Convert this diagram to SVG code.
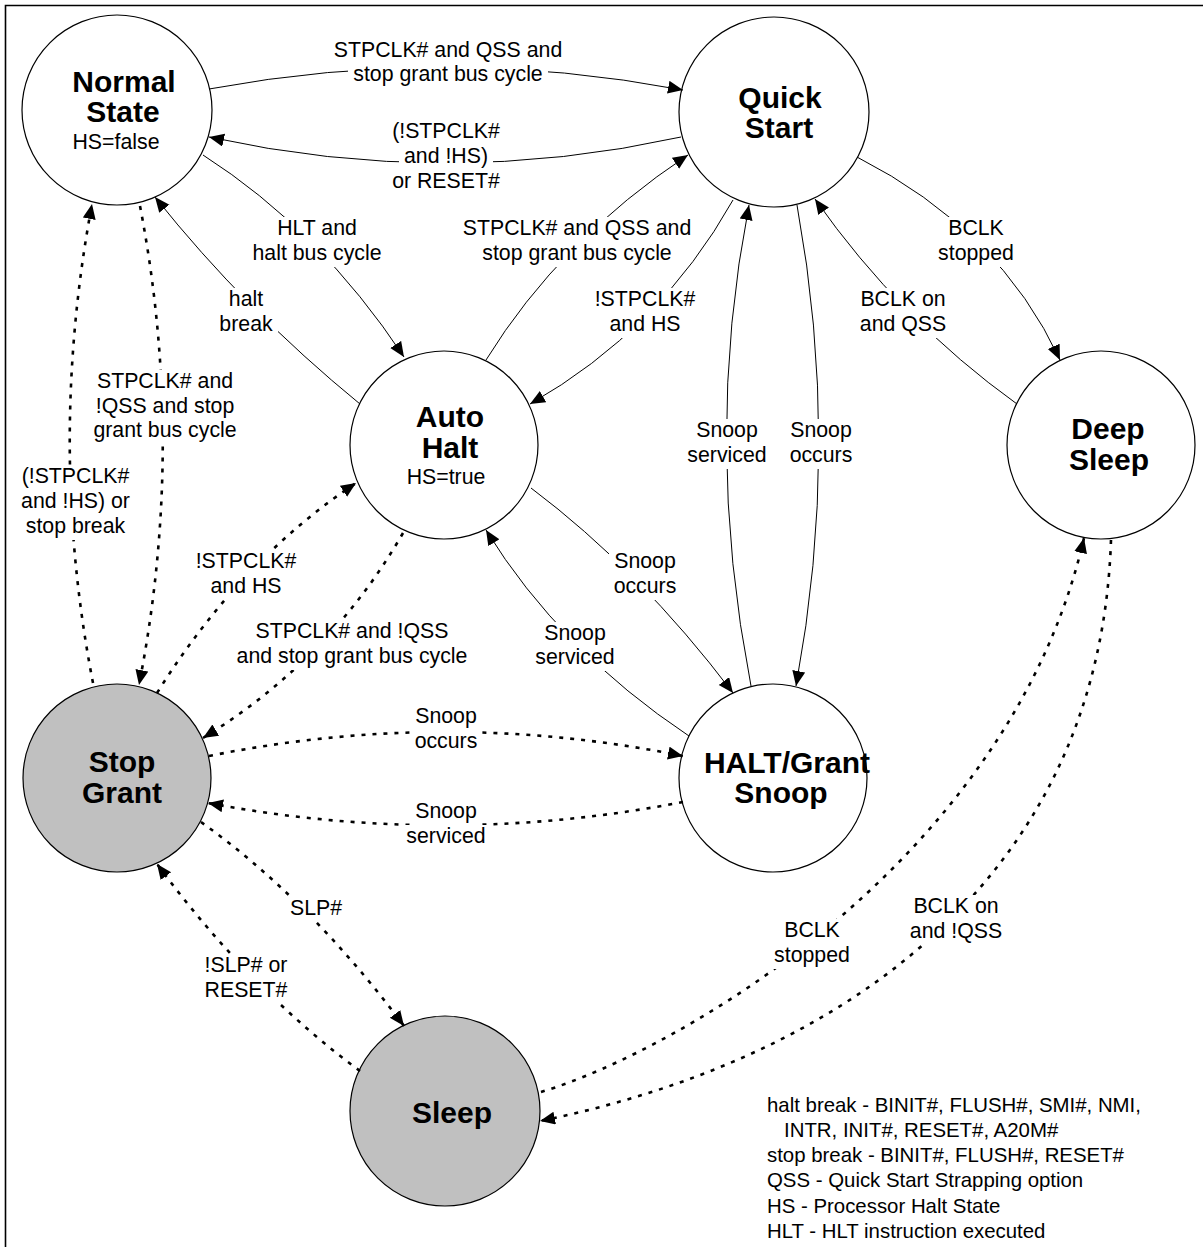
<svg xmlns="http://www.w3.org/2000/svg" width="1203" height="1247" viewBox="0 0 1203 1247">
<style>
.node{stroke:#000;stroke-width:1.2;fill:#fff}
.gray{fill:#c0c0c0}
.title{font-family:"Liberation Sans",Arial,sans-serif;font-weight:bold;font-size:30px;text-anchor:middle;fill:#000}
.sub{font-family:"Liberation Sans",Arial,sans-serif;font-size:21.3px;text-anchor:middle;fill:#000}
.solid{fill:none;stroke:#000;stroke-width:1}
.dot{fill:none;stroke:#000;stroke-width:2.6;stroke-dasharray:4 7}
.lbl rect{fill:#fff;stroke:none}
.lbl text{font-family:"Liberation Sans",Arial,sans-serif;font-size:21.3px;text-anchor:middle;fill:#000}
.legend{font-family:"Liberation Sans",Arial,sans-serif;font-size:20.4px;fill:#000}
</style>
<defs>
<marker id="ah" markerUnits="userSpaceOnUse" markerWidth="16" markerHeight="14" refX="15" refY="6.5" orient="auto">
<path d="M0,0 L15,6.5 L0,13 Z" fill="#000"/>
</marker>
</defs>
<rect x="0" y="0" width="1203" height="1247" fill="#fff"/>
<path d="M5.5,1247 V5.5 H1203" fill="none" stroke="#000" stroke-width="1.6"/>

<g id="nodes">
<g id="normal-state"><circle class="node" cx="117" cy="110" r="95"/><text class="title" x="124" y="92">Normal</text><text class="title" x="123" y="122">State</text><text class="sub" x="116" y="149">HS=false</text></g>
<g id="quick-start"><circle class="node" cx="774" cy="112" r="95"/><text class="title" x="780" y="108">Quick</text><text class="title" x="779" y="138">Start</text></g>
<g id="auto-halt"><circle class="node" cx="444" cy="445" r="94"/><text class="title" x="450" y="427">Auto</text><text class="title" x="450" y="458">Halt</text><text class="sub" x="446" y="484">HS=true</text></g>
<g id="deep-sleep"><circle class="node" cx="1101" cy="445" r="94"/><text class="title" x="1108" y="439">Deep</text><text class="title" x="1109" y="470">Sleep</text></g>
<g id="stop-grant"><circle class="node gray" cx="117" cy="778" r="94"/><text class="title" x="122" y="772">Stop</text><text class="title" x="122" y="803">Grant</text></g>
<g id="halt-grant-snoop"><circle class="node" cx="773" cy="778" r="94"/><text class="title" x="787" y="773">HALT/Grant</text><text class="title" x="781" y="803">Snoop</text></g>
<g id="sleep"><circle class="node gray" cx="445" cy="1111" r="95"/><text class="title" x="452" y="1123">Sleep</text></g>
</g>

<g id="connectors">
<path class="solid" d="M209,89 Q446,45 683,90" marker-end="url(#ah)"/>
<path class="solid" d="M681,137 Q446,189 209,137" marker-end="url(#ah)"/>
<path class="solid" d="M203,155 Q320,230 404,357" marker-end="url(#ah)"/>
<path class="solid" d="M360,404 Q245,310 155,197" marker-end="url(#ah)"/>
<path class="solid" d="M486,360 Q560,240 688,155" marker-end="url(#ah)"/>
<path class="solid" d="M733,200 Q660,330 530,404" marker-end="url(#ah)"/>
<path class="solid" d="M857,157 Q1000,230 1060,360" marker-end="url(#ah)"/>
<path class="solid" d="M1017,404 Q900,320 815,199" marker-end="url(#ah)"/>
<path class="solid" d="M751,686 Q703,440 749,205" marker-end="url(#ah)"/>
<path class="solid" d="M797,205 Q841,445 796,686" marker-end="url(#ah)"/>
<path class="solid" d="M531,488 Q640,570 733,693" marker-end="url(#ah)"/>
<path class="solid" d="M689,736 Q560,650 486,530" marker-end="url(#ah)"/>
<path class="dot" d="M140,206 Q186,445 139,685" marker-end="url(#ah)"/>
<path class="dot" d="M93,683 Q47,445 92,204" marker-end="url(#ah)"/>
<path class="dot" d="M157,693 Q240,560 356,483" marker-end="url(#ah)"/>
<path class="dot" d="M403,533 Q330,660 203,738" marker-end="url(#ah)"/>
<path class="dot" d="M209,756 Q446,708 683,756" marker-end="url(#ah)"/>
<path class="dot" d="M683,802 Q446,848 208,803" marker-end="url(#ah)"/>
<path class="dot" d="M201,822 Q310,900 404,1026" marker-end="url(#ah)"/>
<path class="dot" d="M360,1071 Q250,990 157,864" marker-end="url(#ah)"/>
<path class="dot" d="M541,1092 C680,1050 1010,860 1084,538" marker-end="url(#ah)"/>
<path class="dot" d="M1111,540 C1100,880 840,1060 540,1121" marker-end="url(#ah)"/>
</g>

<g id="labels">
<g class="lbl"><rect x="329" y="39" width="239" height="25"/><rect x="348" y="63" width="200" height="25"/><text><tspan x="448" y="57">STPCLK# and QSS and</tspan><tspan x="448" y="81">stop grant bus cycle</tspan></text></g>
<g class="lbl"><rect x="387" y="120" width="118" height="25"/><rect x="399" y="145" width="94" height="25"/><rect x="387" y="170" width="118" height="25"/><text><tspan x="446" y="138">(!STPCLK#</tspan><tspan x="446" y="163">and !HS)</tspan><tspan x="446" y="188">or RESET#</tspan></text></g>
<g class="lbl"><rect x="271" y="217" width="92" height="25"/><rect x="247" y="242" width="140" height="25"/><text><tspan x="317" y="235">HLT and</tspan><tspan x="317" y="260">halt bus cycle</tspan></text></g>
<g class="lbl"><rect x="224" y="288" width="44" height="25"/><rect x="214" y="313" width="64" height="25"/><text><tspan x="246" y="306">halt</tspan><tspan x="246" y="331">break</tspan></text></g>
<g class="lbl"><rect x="458" y="217" width="239" height="25"/><rect x="477" y="242" width="200" height="25"/><text><tspan x="577" y="235">STPCLK# and QSS and</tspan><tspan x="577" y="260">stop grant bus cycle</tspan></text></g>
<g class="lbl"><rect x="590" y="288" width="110" height="25"/><rect x="605" y="313" width="80" height="25"/><text><tspan x="645" y="306">!STPCLK#</tspan><tspan x="645" y="331">and HS</tspan></text></g>
<g class="lbl"><rect x="943" y="217" width="66" height="25"/><rect x="933" y="242" width="86" height="25"/><text><tspan x="976" y="235">BCLK</tspan><tspan x="976" y="260">stopped</tspan></text></g>
<g class="lbl"><rect x="855" y="288" width="96" height="25"/><rect x="855" y="313" width="96" height="25"/><text><tspan x="903" y="306">BCLK on</tspan><tspan x="903" y="331">and QSS</tspan></text></g>
<g class="lbl"><rect x="691" y="419" width="72" height="25"/><rect x="682" y="444" width="90" height="25"/><text><tspan x="727" y="437">Snoop</tspan><tspan x="727" y="462">serviced</tspan></text></g>
<g class="lbl"><rect x="785" y="419" width="72" height="25"/><rect x="785" y="444" width="72" height="25"/><text><tspan x="821" y="437">Snoop</tspan><tspan x="821" y="462">occurs</tspan></text></g>
<g class="lbl"><rect x="609" y="550" width="72" height="25"/><rect x="609" y="575" width="72" height="25"/><text><tspan x="645" y="568">Snoop</tspan><tspan x="645" y="593">occurs</tspan></text></g>
<g class="lbl"><rect x="539" y="622" width="72" height="25"/><rect x="530" y="646" width="90" height="25"/><text><tspan x="575" y="640">Snoop</tspan><tspan x="575" y="664">serviced</tspan></text></g>
<g class="lbl"><rect x="92" y="370" width="146" height="25"/><rect x="91" y="395" width="149" height="25"/><rect x="89" y="419" width="153" height="25"/><text><tspan x="165" y="388">STPCLK# and</tspan><tspan x="165" y="413">!QSS and stop</tspan><tspan x="165" y="437">grant bus cycle</tspan></text></g>
<g class="lbl"><rect x="21" y="465" width="118" height="25"/><rect x="21" y="490" width="119" height="25"/><rect x="26" y="515" width="110" height="25"/><text><tspan x="75.5" y="483">(!STPCLK#</tspan><tspan x="75.5" y="508">and !HS) or</tspan><tspan x="75.5" y="533">stop break</tspan></text></g>
<g class="lbl"><rect x="191" y="550" width="110" height="25"/><rect x="206" y="575" width="80" height="25"/><text><tspan x="246" y="568">!STPCLK#</tspan><tspan x="246" y="593">and HS</tspan></text></g>
<g class="lbl"><rect x="250" y="620" width="204" height="25"/><rect x="231" y="645" width="242" height="25"/><text><tspan x="352" y="638">STPCLK# and !QSS</tspan><tspan x="352" y="663">and stop grant bus cycle</tspan></text></g>
<g class="lbl"><rect x="410" y="705" width="72" height="25"/><rect x="410" y="730" width="72" height="25"/><text><tspan x="446" y="723">Snoop</tspan><tspan x="446" y="748">occurs</tspan></text></g>
<g class="lbl"><rect x="410" y="800" width="72" height="25"/><rect x="401" y="825" width="90" height="25"/><text><tspan x="446" y="818">Snoop</tspan><tspan x="446" y="843">serviced</tspan></text></g>
<g class="lbl"><rect x="285" y="897" width="62" height="25"/><text><tspan x="316" y="915">SLP#</tspan></text></g>
<g class="lbl"><rect x="200" y="954" width="92" height="25"/><rect x="200" y="979" width="92" height="25"/><text><tspan x="246" y="972">!SLP# or</tspan><tspan x="246" y="997">RESET#</tspan></text></g>
<g class="lbl"><rect x="779" y="919" width="66" height="25"/><rect x="769" y="944" width="86" height="25"/><text><tspan x="812" y="937">BCLK</tspan><tspan x="812" y="962">stopped</tspan></text></g>
<g class="lbl"><rect x="908" y="895" width="96" height="25"/><rect x="905" y="920" width="102" height="25"/><text><tspan x="956" y="913">BCLK on</tspan><tspan x="956" y="938">and !QSS</tspan></text></g>
</g>

<g id="legend" class="legend">
<text x="767" y="1112">halt break - BINIT#, FLUSH#, SMI#, NMI,</text>
<text x="784" y="1137">INTR, INIT#, RESET#, A20M#</text>
<text x="767" y="1162">stop break - BINIT#, FLUSH#, RESET#</text>
<text x="767" y="1187">QSS - Quick Start Strapping option</text>
<text x="767" y="1213">HS - Processor Halt State</text>
<text x="767" y="1238">HLT - HLT instruction executed</text>
</g>
</svg>
